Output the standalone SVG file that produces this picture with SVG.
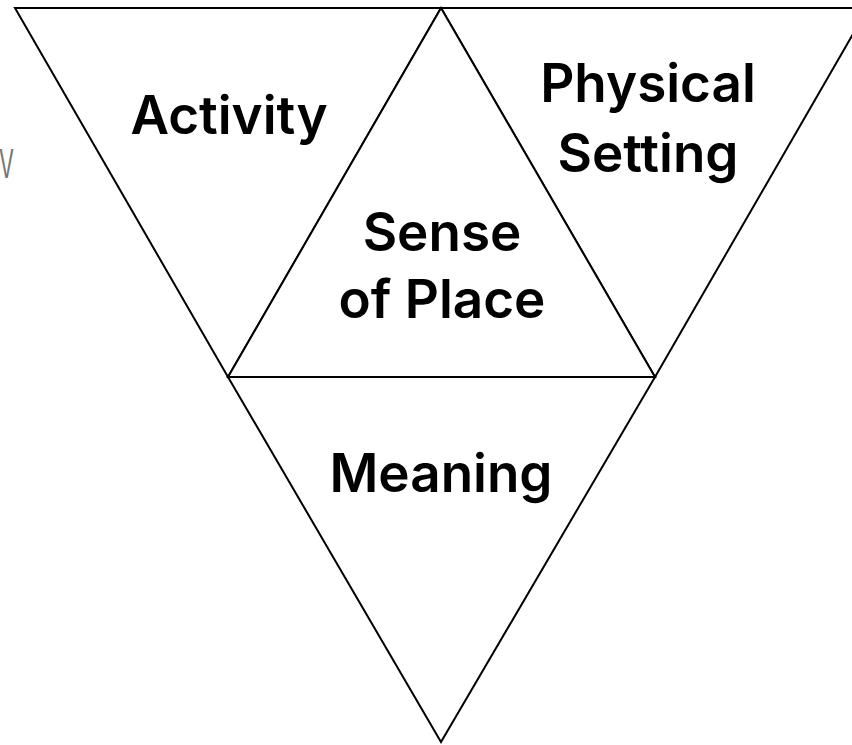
<svg xmlns="http://www.w3.org/2000/svg" width="852" height="745" viewBox="0 0 852 745">
<style>
.tri{fill:#fff;stroke:#000;stroke-width:2;stroke-linejoin:miter}
.lbl{font-family:Inter,"Liberation Sans",sans-serif;font-weight:600;font-size:53px;fill:#000;text-anchor:middle}
.side{font-family:Inter,"Liberation Sans",sans-serif;font-weight:400;font-size:40px;fill:#777}
</style>
<rect width="852" height="745" fill="#fff"/>
<text class="side" x="-1" y="178" textLength="15" lengthAdjust="spacingAndGlyphs">V</text>
<g id="activity">
<polygon class="tri" points="15,8 441,8 228,377"/>
<text class="lbl" x="229" y="134">Activity</text>
</g>
<g id="physical-setting">
<polygon class="tri" points="441,8 868,8 655,377"/>
<text class="lbl" x="648" y="102">Physical</text>
<text class="lbl" x="648" y="172">Setting</text>
</g>
<g id="sense-of-place">
<polygon class="tri" points="441,8 655,377 228,377"/>
<text class="lbl" x="442" y="251">Sense</text>
<text class="lbl" x="442" y="318">of Place</text>
</g>
<g id="meaning">
<polygon class="tri" points="228,377 655,377 441,742"/>
<text class="lbl" x="441" y="492">Meaning</text>
</g>
<g id="connectors"></g>
</svg>
